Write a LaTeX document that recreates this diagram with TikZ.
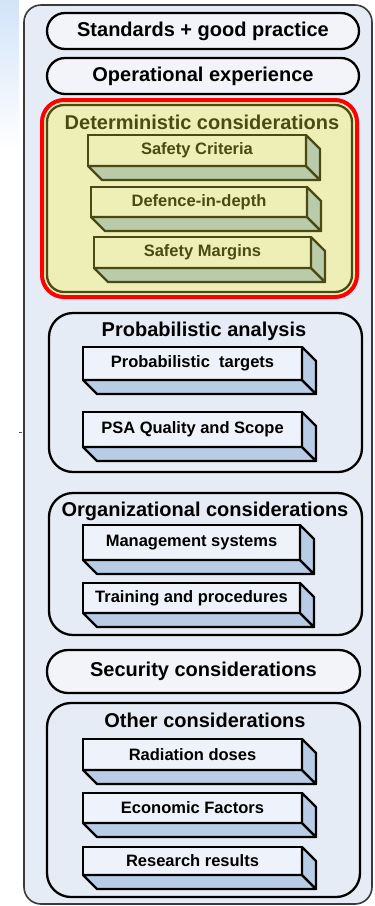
\documentclass[tikz,border=0pt]{standalone}
\usepackage{fontspec}
\setmainfont{Liberation Sans}
\usetikzlibrary{calc}
\definecolor{panel}{HTML}{E6ECF6}
\definecolor{pillfill}{HTML}{F2F4FA}
\definecolor{frontB}{HTML}{EEF2FA}
\definecolor{sideB}{HTML}{B8CCE6}
\definecolor{yel}{HTML}{EEEFB6}
\definecolor{sideY}{HTML}{B9CBA8}
\definecolor{olive}{HTML}{4B4A14}
\definecolor{bgblue}{HTML}{D2E4F8}
\definecolor{panelline}{HTML}{3A3A3A}
\newcommand\titlefont{\fontsize{20}{24}\selectfont\bfseries}
\newcommand\boxfont{\fontsize{16.5}{20}\selectfont\bfseries}
\newcommand\slabfaces[3]{%
  \draw[slabline, draw=#3, fill=#2] (#1.south west) -- ++(14,14) -- ($(#1.south east)+(14,14)$) -- (#1.south east) -- cycle;
  \draw[slabline, draw=#3, fill=#2] (#1.north east) -- ++(14,14) -- ($(#1.south east)+(14,14)$) -- (#1.south east) -- cycle;
}
\tikzset{
  slabline/.style={line width=2.3pt, line join=round},
  slabB/.style={rectangle, draw=black, line width=2.3pt, fill=frontB, inner sep=0pt, outer sep=0pt, font=\boxfont, text=black},
  slabY/.style={rectangle, draw=olive, line width=2.3pt, fill=yel, inner sep=0pt, outer sep=0pt, font=\boxfont, text=olive},
  pill/.style={rectangle, rounded corners=18pt, draw=black, line width=2.3pt, fill=pillfill, inner sep=0pt, outer sep=0pt},
  group/.style={rectangle, rounded corners=24pt, draw=black, line width=2.3pt, fill=panel, inner sep=0pt, outer sep=0pt},
  ttl/.style={font=\titlefont, text=black, inner sep=0pt},
}
\begin{document}
\begin{tikzpicture}[x=1pt,y=-1pt]
\useasboundingbox (0,0) rectangle (375,906);
\fill[white] (0,0) rectangle (375,906);
\shade[top color=bgblue, bottom color=white] (0,0) rectangle (19,150);
% small tick at left
\coordinate (tickA) at (19,432);
\coordinate (tickB) at (22,432);
\draw[line width=0.8pt, black!70] (tickA) -- (tickB);
% outer panel
\node[rectangle, rounded corners=17pt, draw=panelline, line width=1.6pt, fill=panel, minimum width=348pt, minimum height=899pt, inner sep=0pt] (outer) at (198,454.5) {};
% pills
\node[pill, minimum width=312pt, minimum height=36pt, font=\titlefont] (std) at (203,31) {Standards + good practice};
\node[pill, minimum width=312pt, minimum height=36pt, font=\titlefont] (ops) at (203,76) {Operational experience};
% deterministic
\node[rectangle, rounded corners=22pt, draw=red, line width=4pt, fill=yel, minimum width=315pt, minimum height=197pt, inner sep=0pt] (detred) at (199.5,198.5) {};
\node[rectangle, rounded corners=17pt, draw=olive, line width=2.3pt, fill=yel, minimum width=305pt, minimum height=187pt, inner sep=0pt] (det) at (199.5,198.5) {};
\node[ttl, text=olive] (dett) at (202,122) {Deterministic considerations};
\node[slabY, minimum width=218pt, minimum height=31pt] (sc) at (197,150.5) {Safety Criteria};
\slabfaces{sc}{sideY}{olive}
\node[slabY, minimum width=216pt, minimum height=30pt] (did) at (199,202) {Defence-in-depth};
\slabfaces{did}{sideY}{olive}
\node[slabY, minimum width=217pt, minimum height=31pt] (sm) at (202.5,252.5) {Safety Margins};
\slabfaces{sm}{sideY}{olive}
% probabilistic
\node[group, minimum width=313pt, minimum height=159pt] (prob) at (205.5,392.5) {};
\node[ttl] (probt) at (204,331) {Probabilistic analysis};
\node[slabB, minimum width=219pt, minimum height=33pt] (pt) at (192.5,363.5) {Probabilistic~ targets};
\slabfaces{pt}{sideB}{black}
\node[slabB, minimum width=219pt, minimum height=35pt] (psa) at (192.5,429.5) {PSA Quality and Scope};
\slabfaces{psa}{sideB}{black}
% organizational
\node[group, minimum width=313pt, minimum height=142pt] (org) at (205.5,564) {};
\node[ttl] (orgt) at (205,511) {Organizational considerations};
\node[slabB, minimum width=217pt, minimum height=35pt] (ms) at (191.5,542.5) {Management systems};
\slabfaces{ms}{sideB}{black}
\node[slabB, minimum width=217pt, minimum height=30pt] (tp) at (191.5,598) {Training and procedures};
\slabfaces{tp}{sideB}{black}
% security
\node[pill, rounded corners=21pt, minimum width=313pt, minimum height=43pt, font=\titlefont] (sec) at (203.5,671.5) {Security considerations};
% other
\node[group, minimum width=313pt, minimum height=194pt] (oth) at (203.5,800) {};
\node[ttl] (otht) at (205,720) {Other considerations};
\node[slabB, minimum width=219pt, minimum height=31pt] (rd) at (192.5,754.5) {Radiation doses};
\slabfaces{rd}{sideB}{black}
\node[slabB, minimum width=219pt, minimum height=30pt] (ef) at (192.5,808) {Economic Factors};
\slabfaces{ef}{sideB}{black}
\node[slabB, minimum width=219pt, minimum height=28pt] (rr) at (192.5,861) {Research results};
\slabfaces{rr}{sideB}{black}
\end{tikzpicture}
\end{document}
